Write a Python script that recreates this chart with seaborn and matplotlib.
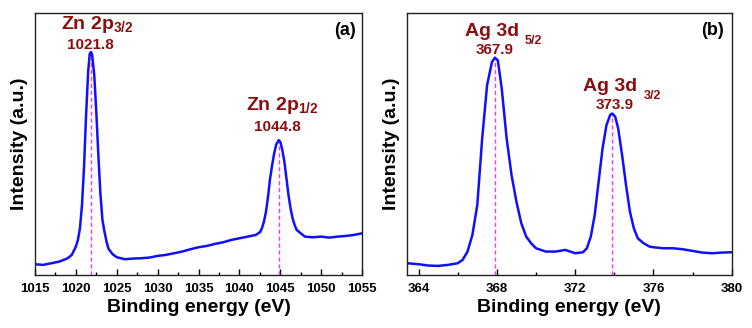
import numpy as np
import pandas as pd
import seaborn as sns
import matplotlib
matplotlib.use("Agg")
import matplotlib.pyplot as plt
from matplotlib.ticker import MultipleLocator

# ---- data (intensity in arbitrary units) ----
zn_energy = [1015, 1016, 1017, 1018, 1019, 1019.5, 1020, 1020.25, 1020.5, 1020.75,
             1021, 1021.25, 1021.5, 1021.7, 1021.85, 1022, 1022.25, 1022.5, 1022.75,
             1023, 1023.25, 1023.5, 1023.75, 1024, 1024.5, 1025, 1026, 1027, 1028,
             1029, 1030, 1031, 1032, 1033, 1034, 1035, 1036, 1037, 1038, 1039, 1040,
             1041, 1042, 1042.5, 1042.75, 1043, 1043.25, 1043.5, 1043.75, 1044,
             1044.25, 1044.5, 1044.8, 1045, 1045.25, 1045.5, 1045.75, 1046, 1046.25,
             1046.5, 1046.75, 1047, 1048, 1049, 1050, 1051, 1052, 1053, 1054, 1055]
zn_intensity = [32, 30, 35, 40, 50, 60, 85, 105, 140, 210,
                325, 480, 610, 665, 670, 660, 600, 490, 360,
                245, 165, 130, 100, 78, 62, 53, 47, 49, 50,
                52, 57, 60, 65, 70, 77, 83, 87, 93, 98, 105, 110,
                115, 120, 128, 140, 160, 190, 235, 290, 330,
                365, 392, 405, 400, 375, 340, 290, 240, 200,
                170, 150, 135, 115, 113, 115, 112, 115, 117, 120, 125]

ag_energy = [363.4, 364, 364.5, 365, 365.5, 366, 366.25, 366.5, 366.75, 367, 367.25,
             367.5, 367.75, 367.9, 368.05, 368.25, 368.5, 368.75, 369, 369.25, 369.5,
             369.75, 370, 370.5, 371, 371.5, 372, 372.4, 372.6, 372.8, 373, 373.2,
             373.4, 373.6, 373.8, 373.9, 374.05, 374.2, 374.4, 374.6, 374.8, 375,
             375.2, 375.5, 375.8, 376, 376.5, 377, 377.5, 378, 378.5, 379, 379.5, 380]
ag_intensity = [35, 32, 28, 27, 30, 35, 45, 70, 120, 210, 410,
                570, 640, 653, 645, 560, 410, 300, 220, 155, 115,
                95, 80, 70, 70, 75, 65, 68, 80, 115, 180, 280,
                380, 450, 482, 485, 475, 440, 360, 270, 190, 140,
                110, 95, 85, 83, 80, 80, 77, 72, 67, 65, 67, 68]

zn_peaks = [1021.8, 1044.8]
zn_peak_heights = [670, 405]
ag_peaks = [367.9, 373.9]
ag_peak_heights = [653, 485]

zn_df = pd.DataFrame({"energy": zn_energy, "intensity": zn_intensity})
ag_df = pd.DataFrame({"energy": ag_energy, "intensity": ag_intensity})

sns.set_style("ticks")
plt.rcParams["font.family"] = ["Liberation Sans", "DejaVu Sans"]
plt.rcParams["font.weight"] = "bold"
plt.rcParams["text.color"] = "black"
plt.rcParams["axes.labelcolor"] = "black"
plt.rcParams["xtick.color"] = "black"
plt.rcParams["mathtext.fontset"] = "custom"
plt.rcParams["mathtext.rm"] = "Liberation Sans:bold"
plt.rcParams["mathtext.bf"] = "Liberation Sans:bold"
plt.rcParams["mathtext.default"] = "bf"

RED = "#8b0f0f"
BLUE = "#1010ff"
PINK = "#ff33ff"

fig = plt.figure(figsize=(7.52, 3.28), dpi=100)
ax1 = fig.add_axes([0.0465, 0.162, 0.435, 0.798])
ax2 = fig.add_axes([0.541, 0.162, 0.432, 0.798])

for ax, df, peaks, heights in [(ax1, zn_df, zn_peaks, zn_peak_heights),
                               (ax2, ag_df, ag_peaks, ag_peak_heights)]:
    ax.vlines(peaks, 0, heights, colors=PINK, linestyles=(0, (3, 2)), lw=1)
    sns.lineplot(data=df, x="energy", y="intensity", ax=ax, color=BLUE, lw=1.8)
    ax.set_ylim(0, 787)
    ax.set_yticks([])
    ax.set_ylabel("Intensity (a.u.)", fontsize=14, fontweight="bold", labelpad=5)
    ax.set_xlabel("Binding energy (eV)", fontsize=14, fontweight="bold", labelpad=3)
    ax.tick_params(axis="x", direction="in", length=4, width=1, labelsize=9.5, pad=6)
    ax.tick_params(axis="x", which="minor", direction="in", length=2.5, width=1)
    for lab in ax.get_xticklabels():
        lab.set_fontweight("bold")
    for s in ax.spines.values():
        s.set_linewidth(1)
        s.set_color("#222222")

# panel (a)
ax1.set_xlim(1015, 1055)
ax1.xaxis.set_major_locator(MultipleLocator(5))
ax1.xaxis.set_minor_locator(MultipleLocator(2.5))
ax1.text(1022.6, 738, r"Zn 2p$_{3/2}$", color=RED, fontsize=14, ha="center", va="baseline")
ax1.text(1021.8, 680, "1021.8", color=RED, fontsize=11, ha="center", va="baseline")
ax1.text(1045.2, 495, r"Zn 2p$_{1/2}$", color=RED, fontsize=14, ha="center", va="baseline")
ax1.text(1044.6, 432, "1044.8", color=RED, fontsize=11, ha="center", va="baseline")
ax1.text(0.98, 0.915, "(a)", transform=ax1.transAxes, fontsize=13, ha="right", va="baseline")

# panel (b)
ax2.set_xlim(363.4, 380)
ax2.xaxis.set_major_locator(MultipleLocator(4))
ax2.xaxis.set_minor_locator(MultipleLocator(2))
ax2.text(367.75, 718, "Ag 3d", color=RED, fontsize=14, ha="center", va="baseline")
ax2.text(369.42, 695, "5/2", color=RED, fontsize=9, ha="left", va="baseline")
ax2.text(367.9, 663, "367.9", color=RED, fontsize=11, ha="center", va="baseline")
ax2.text(373.8, 553, "Ag 3d", color=RED, fontsize=14, ha="center", va="baseline")
ax2.text(375.5, 530, "3/2", color=RED, fontsize=9, ha="left", va="baseline")
ax2.text(374.0, 500, "373.9", color=RED, fontsize=11, ha="center", va="baseline")
ax2.text(0.975, 0.915, "(b)", transform=ax2.transAxes, fontsize=13, ha="right", va="baseline")

fig.savefig("out.png", dpi=100)
